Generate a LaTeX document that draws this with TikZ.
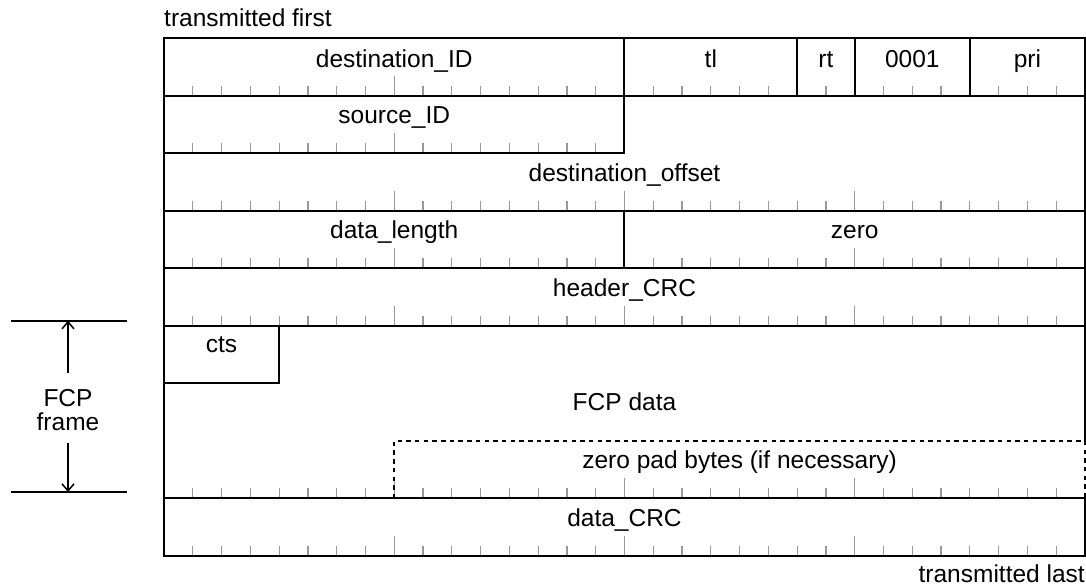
\documentclass[tikz,border=0pt]{standalone}
\usepackage{fontspec}
\setmainfont{Liberation Sans}
\usetikzlibrary{arrows.meta}
\begin{document}
\begin{tikzpicture}[x=1pt,y=-1pt,
  every node/.style={font=\fontsize{24.5}{24}\selectfont, inner sep=0pt},
  lbl/.style={anchor=base},
  frame/.style={line width=2pt, black, line cap=rect},
  tickln/.style={line width=1.2pt, black!40},
  padline/.style={line width=2pt, black, dash pattern=on 4.5pt off 4.2pt},
  dimarrow/.style={line width=1.5pt, -{Straight Barb[length=7pt,width=12pt]}},
  dimline/.style={line width=2pt}]
\useasboundingbox (0,0) rectangle (1086,586);
\def\W{28.78}
\def\H{57.56}
\def\XL{164}
% tick marks: \ticks{y}{from bit}{to bit}
\newcommand\myticks[3]{%
  \foreach \b in {#2,...,#3} {%
    \pgfmathsetmacro\len{mod(\b,8)==0 ? 20 : 10}%
    \draw[tickln] ({\XL+\b*\W},#1) -- ++(0,-\len);
  }}
% rows tops
\pgfmathsetmacro\ra{38}
\pgfmathsetmacro\rb{38+\H}
\pgfmathsetmacro\rc{38+2*\H}
\pgfmathsetmacro\rd{38+3*\H}
\pgfmathsetmacro\re{38+4*\H}
\pgfmathsetmacro\rf{38+5*\H}
\pgfmathsetmacro\rg{38+6*\H}
\pgfmathsetmacro\rh{38+7*\H}
\pgfmathsetmacro\ri{38+8*\H}
\pgfmathsetmacro\rj{38+9*\H}
\pgfmathsetmacro\XR{\XL+32*\W}
% ticks
\myticks{\rb}{1}{31}
\myticks{\rc}{1}{15}
\myticks{\rd}{1}{31}
\myticks{\re}{1}{31}
\myticks{\rf}{1}{31}
\myticks{\ri}{1}{31}
\myticks{\rj}{1}{31}
% horizontal lines
\draw[frame] (\XL,\ra) -- (\XR,\ra);
\draw[frame] (\XL,\rb) -- (\XR,\rb);
\draw[frame] (\XL,\rc) -- ({\XL+16*\W},\rc);
\draw[frame] (\XL,\rd) -- (\XR,\rd);
\draw[frame] (\XL,\re) -- (\XR,\re);
\draw[frame] (\XL,\rf) -- (\XR,\rf);
\draw[frame] (\XL,\ri) -- (\XR,\ri);
\draw[frame] (\XL,\rj) -- (\XR,\rj);
% outer verticals
\draw[frame] (\XL,\ra) -- (\XL,\rj);
\draw[frame] (\XR,\ra) -- (\XR,\rh);
\draw[frame] (\XR,\ri) -- (\XR,\rj);
% field separators
\foreach \b in {16,22,24,28} \draw[frame] ({\XL+\b*\W},\ra) -- ({\XL+\b*\W},\rb);
\draw[frame] ({\XL+16*\W},\rb) -- ({\XL+16*\W},\rc);
\draw[frame] ({\XL+16*\W},\rd) -- ({\XL+16*\W},\re);
% cts box
\draw[frame] (\XL,\rg) -- ({\XL+4*\W},\rg) -- ({\XL+4*\W},\rf);
% zero pad dashed box
\draw[padline] ({\XL+8*\W},\ri) -- ({\XL+8*\W},\rh) -- (\XR,\rh) -- (\XR,\ri);
% labels
\node[lbl] (dst) at ({\XL+8*\W},\ra+29) {destination\_ID};
\node[lbl] (tl) at ({\XL+19*\W},\ra+29) {tl};
\node[lbl] (rt) at ({\XL+23*\W},\ra+29) {rt};
\node[lbl] (tc) at ({\XL+26*\W},\ra+29) {0001};
\node[lbl] (pri) at ({\XL+30*\W},\ra+29) {pri};
\node[lbl] (src) at ({\XL+8*\W},\rb+28) {source\_ID};
\node[lbl] (doff) at ({\XL+16*\W},\rc+28) {destination\_offset};
\node[lbl] (dlen) at ({\XL+8*\W},\rd+28) {data\_length};
\node[lbl] (zero) at ({\XL+24*\W},\rd+28) {zero};
\node[lbl] (hcrc) at ({\XL+16*\W},\re+28) {header\_CRC};
\node[lbl] (cts) at ({\XL+2*\W},\rf+27) {cts};
\node[lbl] (fcpd) at ({\XL+16*\W},410) {FCP data};
\node[lbl] (pad) at ({\XL+20*\W},\rh+28) {zero pad bytes (if necessary)};
\node[lbl] (dcrc) at ({\XL+16*\W},\ri+28) {data\_CRC};
\node[anchor=base west] (tfirst) at (\XL,27) {transmitted first};
\node[anchor=base east] (tlast) at (\XR,582) {transmitted last};
% FCP frame dimension
\node[anchor=base] (fcpa) at (68,406) {FCP};
\node[anchor=base] (fcpb) at (68,430) {frame};
\coordinate (ftop) at (68,320.7);
\coordinate (fbot) at (68,492);
\coordinate (fu) at (68,373);
\coordinate (fd) at (68,443);
\draw[dimline] (11,320.7) -- (127,320.7);
\draw[dimline] (11,492) -- (127,492);
\draw[dimarrow] (fu) -- (ftop);
\draw[dimarrow] (fd) -- (fbot);
\end{tikzpicture}
\end{document}
